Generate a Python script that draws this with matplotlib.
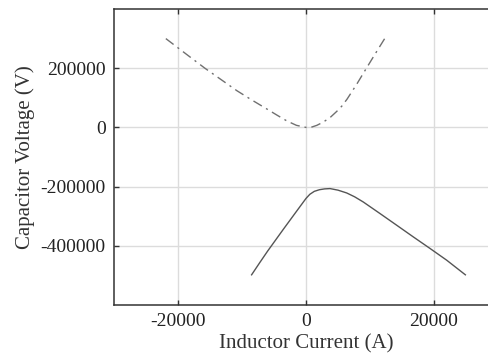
import numpy as np
import matplotlib
matplotlib.use("Agg")
from matplotlib import pyplot as plt

# upper trajectory (dash-dot)
x_up = [-21900, -18800, -15800, -13300, -10800, -8500, -6100, -4500, -3000, -1500,
        0, 800, 1700, 2700, 3800, 4800, 5600, 6400, 7900, 9300, 10800, 12350]
y_up = [300000, 249000, 200000, 162000, 124000, 93000, 62000, 41000, 22000, 7000,
        0, 500, 7000, 18000, 34000, 54000, 72000, 95000, 145000, 195000, 248000, 302000]

# lower trajectory (solid)
x_lo = [-8500, -7200, -6000, -4700, -3500, -1500, 0, 600, 1300, 2100, 2900, 3750,
        5000, 6360, 7600, 8950, 11560, 14170, 16770, 19380, 21980, 24900]
y_lo = [-498000, -456000, -418000, -379000, -343000, -284000, -240000, -226000,
        -216000, -210500, -207800, -206700, -212000, -221500, -234500, -252000,
        -291000, -330500, -370000, -409000, -448600, -498000]

xticks = [-20000, 0, 20000]
yticks = [-400000, -200000, 0, 200000]

plt.rcParams['font.family'] = ['Liberation Serif', 'DejaVu Serif']
plt.rcParams['axes.unicode_minus'] = False

fig = plt.figure(figsize=(4.89, 3.63), dpi=100)
ax = fig.add_axes([114/489, 58/363, 384/489, 296/363])

ax.plot(x_up, y_up, color='#707070', lw=1.0, dashes=(7, 3.5, 1.5, 3.5))
ax.plot(x_lo, y_lo, color='#555555', lw=1.0)

ax.set_xlim(-30000, 30000)
ax.set_ylim(-600000, 400000)
ax.set_xticks(xticks)
ax.set_yticks(yticks)
ax.grid(True, color='#dcdcdc', lw=1.0)
ax.set_axisbelow(True)
ax.tick_params(direction='in', length=3.5, width=1, color='#333333',
               top=True, right=True, labelsize=14, labelcolor='#222222', pad=6)
for s in ax.spines.values():
    s.set_color('#333333')
    s.set_linewidth(1.1)

ax.set_xlabel('Inductor Current (A)', fontsize=15, color='#333333', labelpad=3)
ax.set_ylabel('Capacitor Voltage (V)', fontsize=15, color='#333333', labelpad=4)

fig.savefig('out.png', dpi=100)
